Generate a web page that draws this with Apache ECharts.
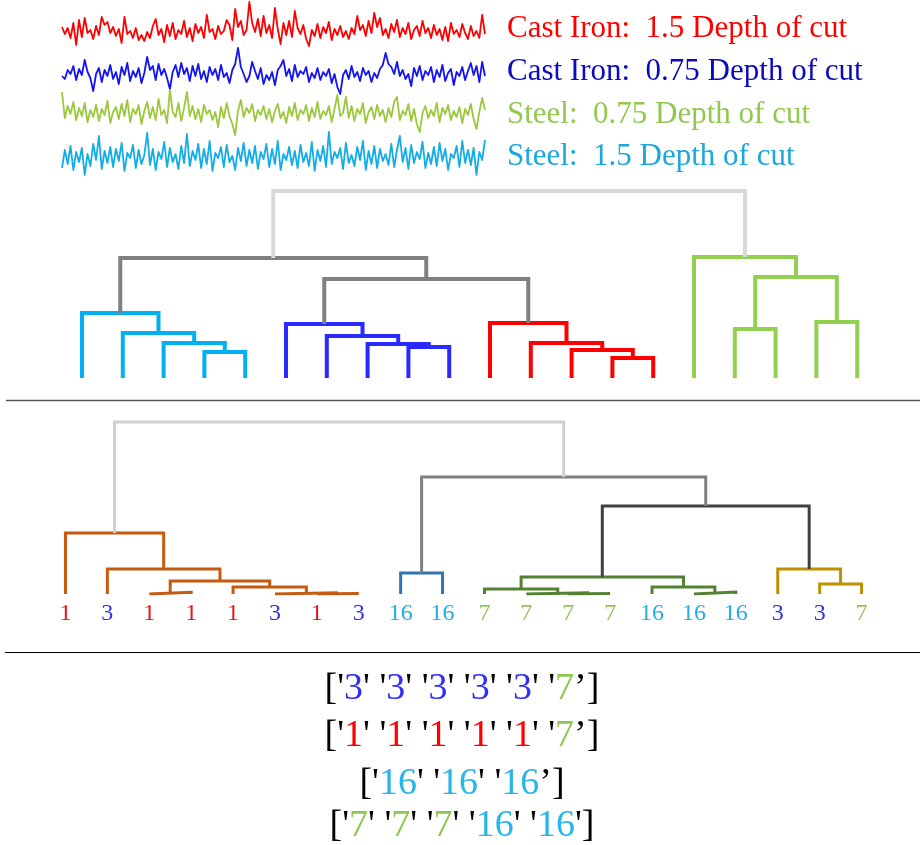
<!DOCTYPE html>
<html>
<head>
<meta charset="utf-8">
<script src="https://cdn.jsdelivr.net/npm/echarts/dist/echarts.min.js"></script>
<style>
  html, body { margin: 0; padding: 0; background: #ffffff; }
  #main { width: 920px; height: 845px; }
</style>
</head>
<body>
<div id="main"></div>
<script>
// ---------- vibration signals (sample amplitude, arbitrary units) ----------
const castIron15 = [
  20,13,19,9,24,2,27,10,29,14, 17,8,21,12,30,22,25,14,20,11,
  18,4,30,13,16,9,19,7,12,6, 15,9,21,28,12,18,5,22,11,24,
  8,17,13,26,10,19,6,23,14,20, 9,32,15,18,8,21,13,16,27,22,
  7,38,20,26,12,17,45,24,15,28, 11,31,14,22,9,39,18,3,24,12,
  26,10,36,19,13,22,8,1,17,11, 23,9,20,14,25,7,18,12,21,10,
  16,8,19,13,31,17,22,11,26,14, 34,20,29,12,18,9,23,15,27,10,
  19,13,24,8,17,21,11,26,14,19, 9,22,12,18,7,20,6,24,13,17,
  10,23,14,8,21,11,16,9,32,13
];
const castIron075 = [
  18,15,24,20,28,14,25,19,34,22, 16,3,20,26,12,24,18,29,15,22,
  10,27,19,31,13,23,17,26,11,21, 37,24,28,14,30,19,25,16,5,22,
  29,17,31,20,26,13,28,18,30,15, 23,12,27,19,25,14,29,17,21,11,
  24,30,46,27,20,12,18,32,23,15, 26,10,19,14,22,9,24,28,34,18,
  25,13,29,17,23,20,27,12,21,16, 26,14,22,18,25,11,20,7,0,19,
  24,15,28,17,22,13,26,19,23,12, 21,16,25,29,41,30,27,20,32,18,
  24,15,20,8,26,18,28,14,23,19, 27,12,24,17,29,13,21,25,9,22,
  18,27,14,23,31,19,28,12,32,18
];
const steel075 = [
  44,18,30,22,34,16,28,20,33,14, 26,19,31,15,27,21,35,13,24,29,
  17,32,20,36,14,27,22,31,12,25, 34,18,29,16,37,21,26,13,46,24,
  19,33,15,28,44,20,30,17,27,14, 31,22,26,16,24,9,29,18,33,20,
  12,1,25,36,19,28,23,32,15,26, 21,30,17,27,14,25,32,18,24,13,
  29,20,33,16,26,22,31,15,28,19, 34,17,25,21,30,14,27,41,20,23,
  39,18,30,15,27,22,33,13,24,29, 17,31,20,26,14,28,19,34,39,16,
  25,21,32,15,27,12,4,23,30,18, 26,20,33,14,28,22,31,16,25,19,
  29,13,27,21,32,17,7,24,38,26
];
const steel15 = [
  8,26,12,30,6,24,14,28,1,22, 10,32,16,40,7,25,13,29,9,27,
  15,33,5,23,18,31,8,26,12,21, 43,11,27,6,24,17,34,9,28,14,
  22,7,30,13,42,10,25,16,32,8, 27,12,35,5,23,18,29,9,31,14,
  20,6,28,15,33,10,26,13,30,7, 24,17,32,9,27,12,35,6,22,16,
  29,11,25,8,31,14,23,10,34,5, 26,15,30,9,44,12,24,18,28,7,
  33,13,21,10,29,16,35,6,25,12, 30,8,27,15,22,11,32,9,26,40,
  14,28,7,31,13,24,17,34,8,23, 12,29,10,33,15,27,6,22,18,30,
  9,35,13,26,11,28,1,24,16,36
];
const signalSeries = [castIron15, castIron075, steel075, steel15];
const signalNames = [
  'Cast Iron:  1.5 Depth of cut',
  'Cast Iron:  0.75 Depth of cut',
  'Steel:  0.75 Depth of cut',
  'Steel:  1.5 Depth of cut'
];
const signalColors = ['#FF0000', '#1414F0', '#9BC83C', '#12ACE6'];
const signalTextColors = ['#FF0000', '#0A0ABE', '#92C850', '#1AA7DC'];
const signalMax = [45, 48, 46, 44];

// ---------- clustering of the four cutting conditions ----------
// merge: [left node, right node, linkage distance, cluster colour key]
const topLeafCount = 20;
const topMerges = [
  [3, 4, 26, 'cyan'], [2, 20, 35, 'cyan'], [1, 21, 45, 'cyan'], [0, 22, 65, 'cyan'],
  [8, 9, 31, 'blue'], [7, 24, 34, 'blue'], [6, 25, 42, 'blue'], [5, 26, 54, 'blue'],
  [13, 14, 20, 'red'], [12, 28, 28, 'red'], [11, 29, 35, 'red'], [10, 30, 55, 'red'],
  [16, 17, 49, 'green'], [18, 19, 56, 'green'], [32, 33, 101, 'green'], [15, 34, 121, 'green'],
  [27, 31, 99, 'gray'], [23, 36, 120, 'gray'], [37, 35, 187, 'light']
];
const topColors = {
  cyan: '#00B0F0', blue: '#2A2AFF', red: '#FF0000', green: '#92D050',
  gray: '#808080', light: '#D9D9D9'
};

// ---------- clustering of individual samples ----------
const bottomLabels = ['1','3','1','1','1','3','1','3','16','16','7','7','7','7','16','16','16','3','3','7'];
const bottomMerges = [
  [6, 7, 0.5, 'orange'], [5, 20, 1.2, 'orange'], [2, 3, 1.8, 'orange'], [4, 21, 7, 'orange'],
  [22, 23, 13, 'orange'], [1, 24, 25, 'orange'], [0, 25, 61, 'orange'],
  [8, 9, 21, 'steel'],
  [12, 13, 0.5, 'olive'], [11, 28, 1.2, 'olive'], [10, 29, 5, 'olive'],
  [15, 16, 2, 'olive'], [14, 31, 7, 'olive'], [30, 32, 17, 'olive'],
  [18, 19, 10, 'gold'], [17, 34, 25, 'gold'],
  [33, 35, 88, 'dark'], [27, 36, 117, 'gray'], [26, 37, 172, 'light']
];
const bottomColors = {
  orange: '#C55A11', steel: '#2E75B6', olive: '#548235', gold: '#BF9000',
  dark: '#404040', gray: '#808080', light: '#D0D0D0'
};
const labelColors = { '1': '#E8161B', '3': '#3232E6', '16': '#22AEE4', '7': '#92C45A' };

// ---------- resulting groups ----------
const groups = [
  ['3', '3', '3', '3', '3', '7'],
  ['1', '1', '1', '1', '1', '7'],
  ['16', '16', '16'],
  ['7', '7', '7', '16', '16']
];
const groupClosers = ['’', '’', '’', "'"];
const groupColors = { '1': '#FF0000', '3': '#3030F5', '7': '#8CC850', '16': '#29B5E8' };

const serif = '"Liberation Serif", "Times New Roman", serif';

// Build the U-shaped links of a dendrogram from a merge list
function dendrogramSeries(leafCount, merges, colors, axisIndex, width) {
  const xs = [], hs = [];
  for (let i = 0; i < leafCount; i++) { xs.push(i); hs.push(0); }
  return merges.map(function (m) {
    const a = m[0], b = m[1], d = m[2];
    const xa = xs[a], xb = xs[b];
    const seg = [[xa, hs[a]], [xa, d], [xb, d], [xb, hs[b]]];
    xs.push((xa + xb) / 2);
    hs.push(d);
    return {
      type: 'line', xAxisIndex: axisIndex, yAxisIndex: axisIndex,
      data: seg, symbol: 'none', silent: true, animation: false,
      lineStyle: { color: colors[m[3]], width: width, cap: 'butt', join: 'miter' }
    };
  });
}

const grids = [], xAxes = [], yAxes = [], series = [];
const sigTops = [2, 46, 90, 132];
signalSeries.forEach(function (vals, i) {
  grids.push({ left: 62, width: 423, top: sigTops[i], height: signalMax[i], containLabel: false, outerBoundsMode: 'none' });
  xAxes.push({ type: 'value', gridIndex: i, min: 0, max: vals.length - 1, show: false });
  yAxes.push({ type: 'value', gridIndex: i, min: 0, max: signalMax[i], show: false });
  series.push({
    type: 'line', xAxisIndex: i, yAxisIndex: i, symbol: 'none', silent: true, animation: false,
    data: vals.map(function (v, k) { return [k, v]; }),
    lineStyle: { color: signalColors[i], width: 1.8, join: 'round' }
  });
});

// top dendrogram (grid 4)
grids.push({ left: 61.6, width: 816, top: 188, height: 190, containLabel: false, outerBoundsMode: 'none' });
xAxes.push({ type: 'value', gridIndex: 4, min: -0.5, max: topLeafCount - 0.5, show: false });
yAxes.push({ type: 'value', gridIndex: 4, min: 0, max: 190, show: false });
dendrogramSeries(topLeafCount, topMerges, topColors, 4, 4).forEach(function (s) { series.push(s); });

// bottom dendrogram (grid 5)
grids.push({ left: 44.5, width: 838, top: 419, height: 175, containLabel: false, outerBoundsMode: 'none' });
xAxes.push({ type: 'value', gridIndex: 5, min: -0.5, max: bottomLabels.length - 0.5, show: false });
yAxes.push({ type: 'value', gridIndex: 5, min: 0, max: 175, show: false });
dendrogramSeries(bottomLabels.length, bottomMerges, bottomColors, 5, 3).forEach(function (s) { series.push(s); });

// leaf labels of the bottom dendrogram
const labelRich = {};
Object.keys(labelColors).forEach(function (k) {
  labelRich['c' + k] = { color: labelColors[k], fontSize: 24, fontFamily: serif };
});
xAxes.push({
  type: 'category', gridIndex: 5, data: bottomLabels, boundaryGap: true, position: 'bottom',
  axisLine: { show: false }, axisTick: { show: false }, splitLine: { show: false },
  axisLabel: {
    interval: 0, margin: 8, fontSize: 24, fontFamily: serif,
    formatter: function (v) { return '{c' + v + '|' + v + '}'; },
    rich: labelRich
  }
});

// graphic texts
const graphics = [];
signalNames.forEach(function (name, i) {
  graphics.push({
    type: 'text', x: 507, y: [29, 72, 115, 157][i], silent: true,
    style: {
      text: name, fill: signalTextColors[i], font: '31px ' + serif,
      align: 'left', verticalAlign: 'middle'
    }
  });
});

const groupRich = { k: { fill: '#000000', fontSize: 38, fontFamily: serif } };
Object.keys(groupColors).forEach(function (k) {
  groupRich['g' + k] = { fill: groupColors[k], fontSize: 38, fontFamily: serif };
});
groups.forEach(function (items, gi) {
  const parts = items.map(function (it, ii) {
    const close = ii === items.length - 1 ? groupClosers[gi] : "'";
    return "{k|'}{g" + it + '|' + it + '}{k|' + close + '}';
  });
  const text = '{k|[}' + parts.join('{k| }') + '{k|]}';
  graphics.push({
    type: 'text', x: 462, y: [689, 736, 784, 826][gi], silent: true,
    style: {
      text: text, rich: groupRich, font: '38px ' + serif,
      align: 'center', verticalAlign: 'middle'
    }
  });
});

// separator rules
graphics.push({ type: 'line', silent: true, shape: { x1: 6, y1: 400.5, x2: 920, y2: 400.5 },
  style: { stroke: '#555555', lineWidth: 1.6 } });
graphics.push({ type: 'line', silent: true, shape: { x1: 5, y1: 652.5, x2: 920, y2: 652.5 },
  style: { stroke: '#000000', lineWidth: 1.2 } });

const chart = echarts.init(document.getElementById('main'), null, { renderer: 'canvas' });
chart.setOption({
  backgroundColor: '#ffffff',
  animation: false,
  grid: grids,
  xAxis: xAxes,
  yAxis: yAxes,
  series: series,
  graphic: graphics
});
</script>
</body>
</html>
